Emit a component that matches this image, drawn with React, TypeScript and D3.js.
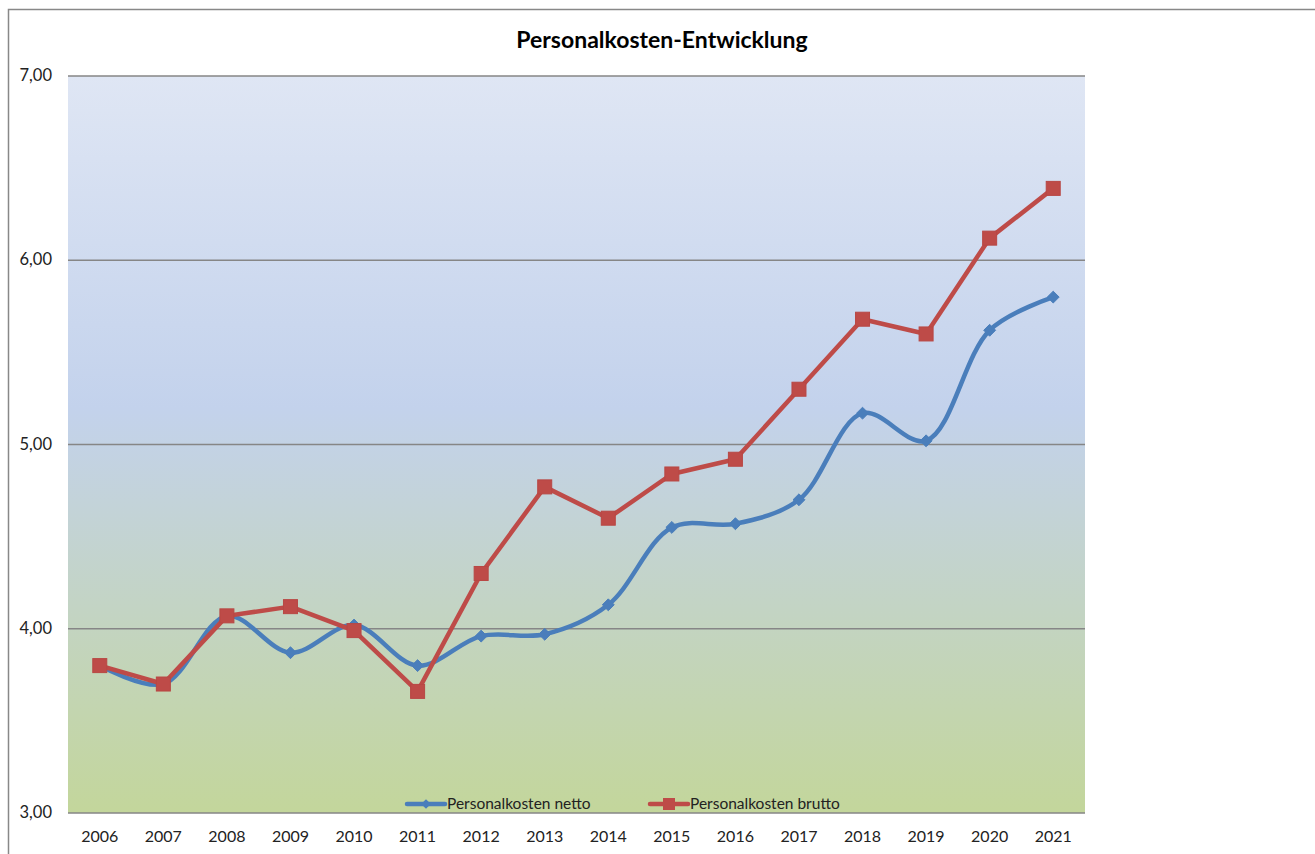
import React, { useEffect, useRef } from 'react';
import * as d3 from 'd3';

const years = ['2006', '2007', '2008', '2009', '2010', '2011', '2012', '2013', '2014', '2015', '2016', '2017', '2018', '2019', '2020', '2021'];
const netto = [3.8, 3.7, 4.07, 3.87, 4.02, 3.8, 3.96, 3.97, 4.13, 4.55, 4.57, 4.7, 5.17, 5.02, 5.62, 5.8];
const brutto = [3.8, 3.7, 4.07, 4.12, 3.99, 3.66, 4.3, 4.77, 4.6, 4.84, 4.92, 5.3, 5.68, 5.6, 6.12, 6.39];
const yTicks = [3, 4, 5, 6, 7];

const BLUE = '#4a7ebb';
const RED = '#be4b48';
const FONT = 'Lato, "Open Sans", sans-serif';

const App: React.FC = () => {
  const svgRef = useRef<SVGSVGElement>(null);

  useEffect(() => {
    if (!svgRef.current) return;
    const svg = d3.select(svgRef.current);
    svg.selectAll('*').remove();

    const W = 1315;
    const H = 854;
    const plot = { left: 68, right: 1085, top: 76, bottom: 813 };

    // outer chart frame
    svg.append('rect')
      .attr('x', 8.5).attr('y', 9.5)
      .attr('width', W + 20).attr('height', H + 20)
      .attr('fill', '#fff').attr('stroke', '#888').attr('stroke-width', 1.5);

    const defs = svg.append('defs');
    const grad = defs.append('linearGradient')
      .attr('id', 'bg').attr('x1', 0).attr('y1', 0).attr('x2', 0).attr('y2', 1);
    grad.append('stop').attr('offset', '0%').attr('stop-color', '#dfe6f4');
    grad.append('stop').attr('offset', '45%').attr('stop-color', '#c3d2ec');
    grad.append('stop').attr('offset', '100%').attr('stop-color', '#c3d69b');

    const x = d3.scaleBand().domain(years).range([plot.left, plot.right]);
    const y = d3.scaleLinear().domain([3, 7]).range([plot.bottom, plot.top]);
    const cx = (d: string) => x(d)! + x.bandwidth() / 2;

    svg.append('rect')
      .attr('x', plot.left).attr('y', plot.top)
      .attr('width', plot.right - plot.left).attr('height', plot.bottom - plot.top)
      .attr('fill', 'url(#bg)');

    // gridlines
    svg.append('g').selectAll('line')
      .data(yTicks)
      .enter()
      .append('line')
      .attr('x1', plot.left).attr('x2', plot.right)
      .attr('y1', d => y(d)).attr('y2', d => y(d))
      .attr('stroke', '#868686').attr('stroke-width', 1.5);

    // y axis labels
    svg.append('g').selectAll('text')
      .data(yTicks)
      .enter()
      .append('text')
      .attr('x', 52).attr('y', d => y(d) + 5)
      .attr('text-anchor', 'end')
      .style('font-family', FONT).style('font-size', '16.5px').attr('fill', '#222')
      .text(d => d3.format('.2f')(d).replace('.', ','));

    // x axis labels
    svg.append('g').selectAll('text')
      .data(years)
      .enter()
      .append('text')
      .attr('x', d => cx(d)).attr('y', 842)
      .attr('text-anchor', 'middle')
      .style('font-family', FONT).style('font-size', '16px').attr('fill', '#222')
      .text(d => d);

    // title
    svg.append('text')
      .attr('x', 662).attr('y', 48)
      .attr('text-anchor', 'middle')
      .style('font-family', FONT).style('font-size', '23px').style('font-weight', '700')
      .attr('fill', '#000')
      .text('Personalkosten-Entwicklung');

    // netto (smoothed)
    const lineSmooth = d3.line<number>()
      .x((_, i) => cx(years[i]))
      .y(d => y(d))
      .curve(d3.curveCatmullRom.alpha(0.5));
    svg.append('path')
      .datum(netto)
      .attr('d', lineSmooth)
      .attr('fill', 'none').attr('stroke', BLUE).attr('stroke-width', 4.5)
      .attr('stroke-linejoin', 'round').attr('stroke-linecap', 'round');

    const diamond = d3.symbol().type(d3.symbolDiamond2).size(90);
    svg.append('g').selectAll('path')
      .data(netto)
      .enter()
      .append('path')
      .attr('d', diamond)
      .attr('transform', (d, i) => `translate(${cx(years[i])},${y(d)})`)
      .attr('fill', BLUE).attr('stroke', BLUE);

    // brutto (straight)
    const lineStraight = d3.line<number>()
      .x((_, i) => cx(years[i]))
      .y(d => y(d));
    svg.append('path')
      .datum(brutto)
      .attr('d', lineStraight)
      .attr('fill', 'none').attr('stroke', RED).attr('stroke-width', 4.5)
      .attr('stroke-linejoin', 'round');

    svg.append('g').selectAll('rect')
      .data(brutto)
      .enter()
      .append('rect')
      .attr('x', (d, i) => cx(years[i]) - 7)
      .attr('y', d => y(d) - 7)
      .attr('width', 14).attr('height', 14)
      .attr('fill', RED).attr('stroke', '#b84744').attr('stroke-width', 1);

    // legend
    const legend = svg.append('g');
    const items = [
      { label: 'Personalkosten netto', color: BLUE, x0: 407, kind: 'diamond' },
      { label: 'Personalkosten brutto', color: RED, x0: 650, kind: 'square' },
    ];
    const ly = 804;
    items.forEach(it => {
      legend.append('line')
        .attr('x1', it.x0).attr('x2', it.x0 + 38)
        .attr('y1', ly).attr('y2', ly)
        .attr('stroke', it.color).attr('stroke-width', 4.5).attr('stroke-linecap', 'round');
      if (it.kind === 'diamond') {
        legend.append('path')
          .attr('d', d3.symbol().type(d3.symbolDiamond2).size(60))
          .attr('transform', `translate(${it.x0 + 19},${ly})`)
          .attr('fill', it.color);
      } else {
        legend.append('rect')
          .attr('x', it.x0 + 13).attr('y', ly - 6)
          .attr('width', 12).attr('height', 12)
          .attr('fill', it.color);
      }
      legend.append('text')
        .attr('x', it.x0 + 40).attr('y', ly + 5)
        .style('font-family', FONT).style('font-size', '15.5px').attr('fill', '#222')
        .text(it.label);
    });
  }, []);

  return (
    <svg ref={svgRef} width={1315} height={854} style={{ display: 'block', position: 'absolute', left: 0, top: 0 }} />
  );
};

export default App;
